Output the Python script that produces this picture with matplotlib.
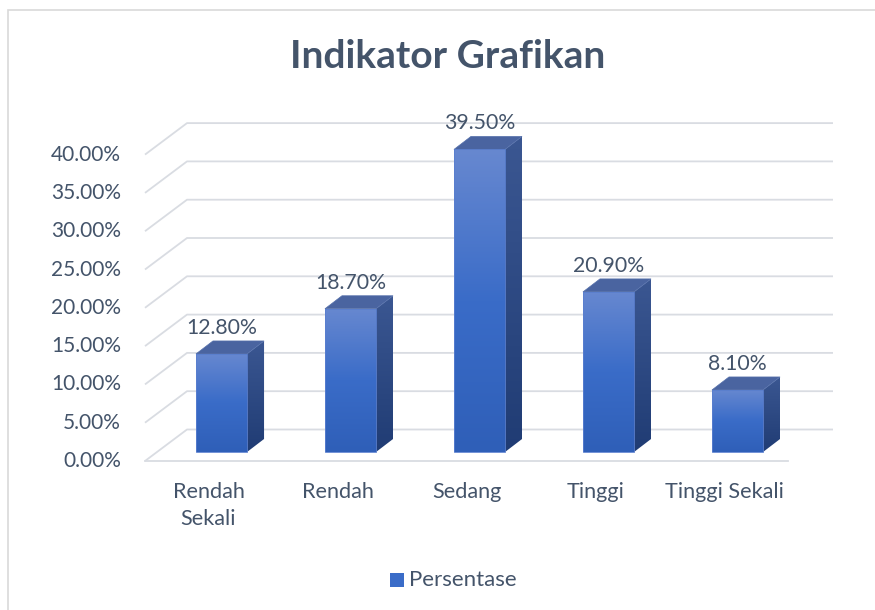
import numpy as np
import matplotlib.pyplot as plt
from matplotlib.patches import Polygon, Rectangle
from matplotlib.colors import LinearSegmentedColormap

plt.rcParams['font.family'] = ['Lato', 'DejaVu Sans']

categories = ['Rendah\nSekali', 'Rendah', 'Sedang', 'Tinggi', 'Tinggi Sekali']
values = [12.8, 18.7, 39.5, 20.9, 8.1]
yticks = [0, 5, 10, 15, 20, 25, 30, 35, 40]
title = 'Indikator Grafikan'
series_name = 'Persentase'

text_col = '#44546a'
grid_col = '#d9dce2'
front_cols = ['#2f5fb8', '#3a6cc8', '#6788d0']   # bottom -> top
side_cols = ['#203c74', '#3b5792']
top_col = '#4a64a0'

W, H = 875, 610
fig = plt.figure(figsize=(W / 100, H / 100), dpi=100)

# axes box in pixels, data: x = category index, y = percent
ax_l, ax_r, ax_t, ax_b = 100, 860, 100, 470
ax = fig.add_axes([ax_l / W, 1 - ax_b / H, (ax_r - ax_l) / W, (ax_b - ax_t) / H])
px_cat = 129.0
px_unit = 7.66
cx0, cy0 = 221.5, 452.0


def px2x(px):
    return (px - cx0) / px_cat


def px2y(py):
    return (cy0 - py) / px_unit


# 3d "room": front floor and back wall grid
front_y0 = px2y(461)
back_y0 = px2y(429.5)
fx0, fx1 = px2x(145), px2x(788)
bx0, bx1 = px2x(187), px2x(833)
for t in yticks:
    ax.plot([fx0, bx0, bx1], [front_y0 + t, back_y0 + t, back_y0 + t],
            color=grid_col, lw=1.3, zorder=1, solid_capstyle='butt')
    ax.text(px2x(121), front_y0 + t, f'{t:.2f}%', ha='right', va='center',
            fontsize=15, color=text_col)
ax.plot([fx0, fx1], [front_y0, front_y0], color=grid_col, lw=1.3, zorder=1)


def grad_fill(xy, cols, z):
    cmap = LinearSegmentedColormap.from_list('g', cols)
    poly = Polygon(xy, closed=True, facecolor='none', edgecolor='none')
    ax.add_patch(poly)
    xs = [p[0] for p in xy]
    ys = [p[1] for p in xy]
    grad = np.linspace(0, 1, 200).reshape(-1, 1)
    im = ax.imshow(grad, cmap=cmap, origin='lower', aspect='auto', zorder=z,
                   extent=(min(xs), max(xs), min(ys), max(ys)))
    im.set_clip_path(poly)


hw = 0.198
ddx = 17 / px_cat
ddy = 13 / px_unit
for i, v in enumerate(values):
    x0, x1 = i - hw, i + hw
    grad_fill([(x0, 0), (x1, 0), (x1, v), (x0, v)], front_cols, 3)
    ax.add_patch(Rectangle((x0, 0), x1 - x0, v, facecolor='none',
                           edgecolor='#5a7fcf', lw=0.6, zorder=4))
    grad_fill([(x1, 0), (x1 + ddx, ddy), (x1 + ddx, v + ddy), (x1, v)], side_cols, 3)
    ax.add_patch(Polygon([(x0, v), (x1, v), (x1 + ddx, v + ddy), (x0 + ddx, v + ddy)],
                         closed=True, facecolor=top_col, edgecolor='#5570ab', lw=0.5, zorder=3))
    ax.text(i, v + 3.4, f'{v:.2f}%', ha='center', va='center', fontsize=15.3, color=text_col)
    ax.text(i - 13 / px_cat, px2y(482), categories[i], ha='center', va='top',
            fontsize=15.6, color=text_col, linespacing=1.42)

ax.set_xlim(px2x(ax_l), px2x(ax_r))
ax.set_ylim(px2y(ax_b), px2y(ax_t))
ax.axis('off')

fig.text(448 / W, 1 - 57 / H, title, ha='center', va='center', fontsize=28,
         fontweight='bold', color=text_col)

# legend
fig.patches.append(Rectangle((390 / W, 1 - 587 / H), 14 / W, 14 / H, transform=fig.transFigure,
                             facecolor='#3a6cc8', edgecolor='none'))
fig.text(409 / W, 1 - 580 / H, series_name, ha='left', va='center', fontsize=16, color=text_col)

# chart border
fig.patches.append(Rectangle((8 / W, -0.05), 1.0, 1 - 10 / H + 0.05, transform=fig.transFigure,
                             facecolor='none', edgecolor='#d9d9d9', lw=1.2))

fig.savefig('out.png', dpi=100)
